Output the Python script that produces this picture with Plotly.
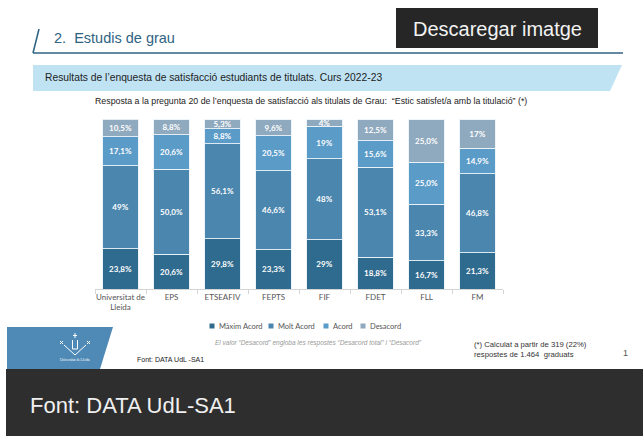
import plotly.graph_objects as go

# ---------------- data ----------------
categories = ["Universitat de<br>Lleida", "EPS", "ETSEAFIV", "FEPTS", "FIF", "FDET", "FLL", "FM"]
series_names = ["Màxim Acord", "Molt Acord", "Acord", "Desacord"]
maxim_acord = [23.8, 20.6, 29.8, 23.3, 29, 18.8, 16.7, 21.3]
molt_acord = [49, 50.0, 56.1, 46.6, 48, 53.1, 33.3, 46.8]
acord = [17.1, 20.6, 8.8, 20.5, 19, 15.6, 25.0, 14.9]
desacord = [10.5, 8.8, 5.3, 9.6, 4, 12.5, 25.0, 17]
maxim_labels = ["23,8%", "20,6%", "29,8%", "23,3%", "29%", "18,8%", "16,7%", "21,3%"]
molt_labels = ["49%", "50,0%", "56,1%", "46,6%", "48%", "53,1%", "33,3%", "46,8%"]
acord_labels = ["17,1%", "20,6%", "8,8%", "20,5%", "19%", "15,6%", "25,0%", "14,9%"]
desacord_labels = ["10,5%", "8,8%", "5,3%", "9,6%", "4%", "12,5%", "25,0%", "17%"]

colors = ["#2f6b8e", "#4a86ae", "#5b9bc8", "#8fa9be"]

W, H = 643, 436
L, R, T, B = 95, 503, 119, 289  # plot area in pixels


def px(x):
    return (x - L) / (R - L)


def py(y):
    return (B - y) / (B - T)


fig = go.Figure()
for name, vals, labs, col in zip(series_names,
                                 [maxim_acord, molt_acord, acord, desacord],
                                 [maxim_labels, molt_labels, acord_labels, desacord_labels],
                                 colors):
    fig.add_trace(go.Bar(
        x=categories, y=vals, name=name, text=labs,
        textposition="inside", insidetextanchor="middle", textangle=0,
        textfont=dict(family="Lato", size=8, color="white", weight="bold"),
        marker=dict(color=col, line=dict(color="rgba(235,243,250,0.9)", width=1)),
        showlegend=False, hoverinfo="skip", cliponaxis=False,
    ))

shapes = []
annotations = []

# header
shapes.append(dict(type="rect", xref="paper", yref="paper",
                   x0=px(396), x1=px(598), y0=py(8), y1=py(48),
                   fillcolor="#262626", line=dict(width=0), layer="above"))
annotations.append(dict(text="Descaregar imatge", xref="paper", yref="paper",
                        x=px(497), y=py(29), showarrow=False, xanchor="center", yanchor="middle",
                        font=dict(family="Liberation Sans", size=20, color="#f2f2f2")))
shapes.append(dict(type="line", xref="paper", yref="paper",
                   x0=px(33), x1=px(623), y0=py(53), y1=py(53),
                   line=dict(color="#2f6383", width=1.5)))
shapes.append(dict(type="line", xref="paper", yref="paper",
                   x0=px(33), x1=px(39), y0=py(53), y1=py(29),
                   line=dict(color="#2f6383", width=1.5)))
annotations.append(dict(text="2.  Estudis de grau", xref="paper", yref="paper",
                        x=px(52), y=py(38), showarrow=False, xanchor="left", yanchor="middle",
                        font=dict(family="Liberation Sans", size=14.5, color="#2f6383")))

# banner
shapes.append(dict(type="path", xref="paper", yref="paper",
                   path=f"M{px(33)},{py(65)} L{px(622)},{py(65)} L{px(610)},{py(91)} L{px(33)},{py(91)} Z",
                   fillcolor="#c0e3f4", line=dict(width=0), layer="below"))
annotations.append(dict(text="Resultats de l’enquesta de satisfacció estudiants de titulats. Curs 2022-23",
                        xref="paper", yref="paper", x=px(43), y=py(77), showarrow=False,
                        xanchor="left", yanchor="middle",
                        font=dict(family="Liberation Sans", size=10.3, color="#222222")))
annotations.append(dict(text="Resposta a la pregunta 20 de l’enquesta de satisfacció als titulats de Grau:  “Estic satisfet/a amb la titulació” (*)",
                        xref="paper", yref="paper", x=px(311), y=py(101), showarrow=False,
                        xanchor="center", yanchor="middle",
                        font=dict(family="Liberation Sans", size=8.8, color="#222222")))

# legend (manual)
leg_x = [212, 271, 326, 363]
for name, col, lx in zip(series_names, colors, leg_x):
    shapes.append(dict(type="rect", xref="paper", yref="paper",
                       x0=px(lx - 2.5), x1=px(lx + 2.5), y0=py(323.5), y1=py(328.5),
                       fillcolor=col, line=dict(width=0)))
    annotations.append(dict(text=name, xref="paper", yref="paper", x=px(lx + 5), y=py(326),
                            showarrow=False, xanchor="left", yanchor="middle",
                            font=dict(family="Lato", size=7.5, color="#555555")))

annotations.append(dict(text="El valor “Desacord” engloba les respostes “Desacord total” i “Desacord”",
                        xref="paper", yref="paper", x=px(318), y=py(343), showarrow=False,
                        xanchor="center", yanchor="middle",
                        font=dict(family="Liberation Sans", size=6.5, color="#9a9a9a", style="italic")))
annotations.append(dict(text="(*) Calculat a partir de 319 (22%)<br>respostes de 1.464  graduats",
                        xref="paper", yref="paper", x=px(472), y=py(349.5), showarrow=False,
                        xanchor="left", yanchor="middle", align="left",
                        font=dict(family="Liberation Sans", size=7.7, color="#333333")))
annotations.append(dict(text="1", xref="paper", yref="paper", x=px(625), y=py(353), showarrow=False,
                        xanchor="center", yanchor="middle",
                        font=dict(family="Liberation Sans", size=9, color="#555555")))
annotations.append(dict(text="Font: DATA UdL -SA1", xref="paper", yref="paper", x=px(135), y=py(359),
                        showarrow=False, xanchor="left", yanchor="middle",
                        font=dict(family="Liberation Sans", size=7, color="#222222")))

# logo block
shapes.append(dict(type="path", xref="paper", yref="paper",
                   path=f"M{px(7)},{py(327)} L{px(113)},{py(327)} L{px(100)},{py(369)} L{px(7)},{py(369)} Z",
                   fillcolor="#4f8ab6", line=dict(width=0)))
logo_paths = [
    f"M{px(72.5)},{py(340)} L{px(72.5)},{py(349)} L{px(77.5)},{py(349)} L{px(77.5)},{py(340)}",
    f"M{px(64)},{py(345)} L{px(75)},{py(355)} L{px(86)},{py(345)}",
    f"M{px(75)},{py(333)} L{px(75)},{py(338)} M{px(73)},{py(335.5)} L{px(77)},{py(335.5)}",
    f"M{px(60)},{py(341)} L{px(63)},{py(344)} M{px(63)},{py(341)} L{px(60)},{py(344)}",
    f"M{px(87)},{py(341)} L{px(90)},{py(344)} M{px(90)},{py(341)} L{px(87)},{py(344)}",
]
for p in logo_paths:
    shapes.append(dict(type="path", xref="paper", yref="paper", path=p,
                       line=dict(color="white", width=1)))
annotations.append(dict(text="Universitat de Lleida", xref="paper", yref="paper", x=px(75), y=py(360),
                        showarrow=False, xanchor="center", yanchor="middle",
                        font=dict(family="Liberation Serif", size=3.5, color="white")))

# bottom dark band
shapes.append(dict(type="rect", xref="paper", yref="paper",
                   x0=px(6), x1=px(643), y0=py(369), y1=py(436),
                   fillcolor="#2e2e2e", line=dict(width=0)))
annotations.append(dict(text="Font: DATA UdL-SA1", xref="paper", yref="paper", x=px(28), y=py(405),
                        showarrow=False, xanchor="left", yanchor="middle",
                        font=dict(family="Liberation Sans", size=22, color="#f0f0f0")))

fig.update_layout(
    width=W, height=H,
    margin=dict(l=L, r=W - R, t=T, b=H - B, pad=0),
    paper_bgcolor="white", plot_bgcolor="white",
    barmode="stack", bargap=0.31,
    uniformtext=dict(minsize=8, mode="show"),
    shapes=shapes, annotations=annotations,
    xaxis=dict(showgrid=False, showline=True, linecolor="#d4d4d4", linewidth=1,
               ticks="outside", tickson="boundaries", ticklen=4, tickcolor="#d4d4d4",
               tickangle=0,
               tickfont=dict(family="Lato", size=8, color="#555555"), fixedrange=True),
    yaxis=dict(range=[0, 100.4], visible=False, fixedrange=True),
    showlegend=False,
)

fig.write_html("out.html", config={"displayModeBar": False, "staticPlot": True},
               post_script="document.body.style.margin='0';document.body.style.padding='0';document.body.style.overflow='hidden';")
